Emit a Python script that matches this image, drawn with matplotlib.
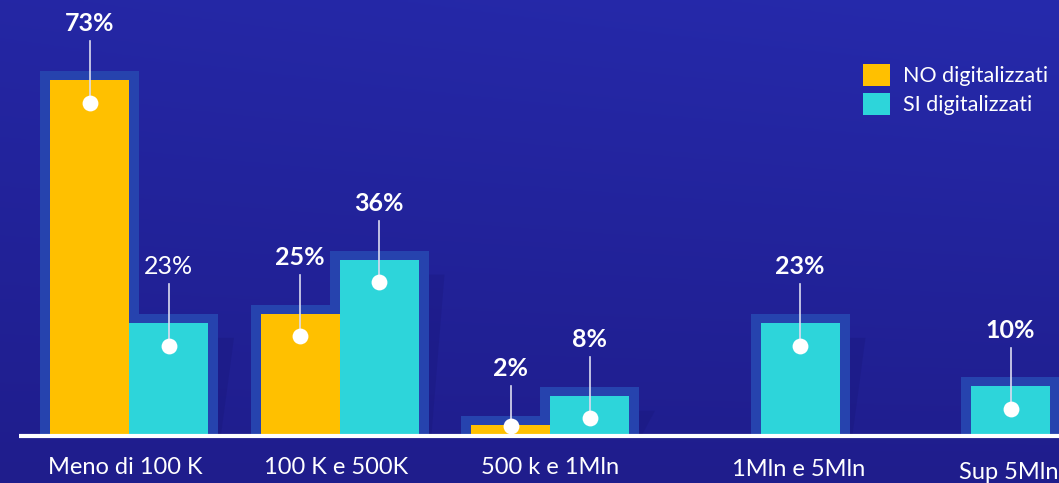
import numpy as np
import matplotlib
matplotlib.use("Agg")
import matplotlib.pyplot as plt
from matplotlib.patches import Patch, Polygon

plt.rcParams['font.family'] = ['Lato', 'DejaVu Sans']

categories = ["Meno di 100 K", "100 K e 500K", "500 k e 1Mln", "1Mln e 5Mln", "Sup 5Mln"]
no_digit = [73, 25, 2, None, None]
si_digit = [23, 36, 8, 23, 10]
series_names = ["NO digitalizzati", "SI digitalizzati"]
bold_no = [True, True, True, False, False]
bold_si = [False, True, True, True, True]

YELLOW = "#FFC000"
CYAN = "#2DD5DA"
SHADOW = "#2643AE"

W, H = 1059, 483
fig = plt.figure(figsize=(W / 100, H / 100), dpi=100)
ax = fig.add_axes([0, 0, 1, 1])

# pixel-to-data mapping
px_per_cat = 210.5
px_per_pct = 4.86
x0_px = 129
base_px = 48  # from bottom
xlim = (-x0_px / px_per_cat, (W - x0_px) / px_per_cat)
ylim = (-base_px / px_per_pct, (H - base_px) / px_per_pct)
ax.set_xlim(*xlim)
ax.set_ylim(*ylim)
ax.axis('off')

# background gradient
ny, nx = 200, 200
yy, xx = np.mgrid[0:1:ny * 1j, 0:1:nx * 1j]
top = np.array([38, 42, 172]) / 255
bot = np.array([31, 29, 140]) / 255
t = (0.75 * yy + 0.25 * xx * yy)[..., None]
img = bot + (top - bot) * t
ax.imshow(img, extent=[xlim[0], xlim[1], ylim[0], ylim[1]], origin='lower',
          aspect='auto', zorder=0)

bw = 79 / px_per_cat
pad_x = 10 / px_per_cat
pad_y = 9 / px_per_pct
xs = np.arange(len(categories))

def draw_series(vals, offset, color):
    for i, v in enumerate(vals):
        if v is None:
            continue
        xc = xs[i] + offset
        ax.bar(xc, v + pad_y, width=bw + 2 * pad_x, color=SHADOW, zorder=1)
    for i, v in enumerate(vals):
        if v is None:
            continue
        xc = xs[i] + offset
        ax.bar(xc, v, width=bw, color=color, zorder=2)

# soft diagonal shadows to the right of each group
for i in range(len(categories)):
    right = xs[i] + bw + pad_x
    h = si_digit[i]
    poly = Polygon([(right, 0), (right, h - 3), (right + 16 / px_per_cat, h - 3),
                    (right + 3 / px_per_cat, 0)], closed=True,
                   facecolor="#14126e", alpha=0.22, edgecolor='none', zorder=1)
    ax.add_patch(poly)

draw_series(no_digit, -bw / 2, YELLOW)
draw_series(si_digit, bw / 2, CYAN)

# baseline
ax.plot([xlim[0] + 19 / px_per_cat, xlim[1]], [-0.25, -0.25], color='white',
        lw=3, zorder=3, solid_capstyle='butt')

def annotate(vals, offset, bolds):
    for i, v in enumerate(vals):
        if v is None:
            continue
        xc = xs[i] + offset
        dot_y = max(v - 4.6, 1.8)
        lab_y = v + 11.6
        ax.plot([xc, xc], [dot_y, lab_y - 3.6], color='#dcdcf0', lw=1.2, zorder=4)
        ax.scatter([xc], [dot_y], s=130, color='white', zorder=5, linewidths=0)
        ax.text(xc, lab_y, f"{v}%", color='white', fontsize=18,
                fontweight='bold' if bolds[i] else 'normal',
                ha='center', va='center', zorder=6)

annotate(no_digit, -bw / 2, bold_no)
annotate(si_digit, bw / 2, bold_si)

# category labels
label_dx = [-4, -3, 0, 38, 38]
label_dy = [-6.6, -6.6, -6.6, -7.2, -7.8]
for i, c in enumerate(categories):
    ax.text(xs[i] + label_dx[i] / px_per_cat, label_dy[i], c, color='white',
            fontsize=17, ha='center', va='center', zorder=6)

handles = [Patch(facecolor=YELLOW, edgecolor='none'), Patch(facecolor=CYAN, edgecolor='none')]
leg = ax.legend(handles, series_names, loc='upper left',
                bbox_to_anchor=(863 / W, 1 - 64 / H), frameon=False,
                fontsize=15.5, handlelength=1.25, handleheight=1.2,
                handletextpad=0.6, labelspacing=0.3, borderpad=0,
                borderaxespad=0)
for txt in leg.get_texts():
    txt.set_color('white')

fig.savefig("out.png", dpi=100)
